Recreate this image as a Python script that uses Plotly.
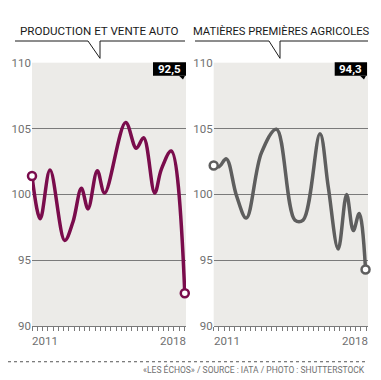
import plotly.graph_objects as go

# ---- data (x = months since Jan 2011) ----
prod_months = [0, 4.7, 10.3, 18.7, 23.4, 28.2, 32, 37.3, 41.5, 53.5, 59.6, 63.8, 70.1, 73.9, 79.6, 87.3]
prod_vals = [101.4, 98.15, 101.85, 96.5, 97.9, 100.47, 98.9, 101.8, 100.1, 105.45, 103.5, 104.3, 100.1, 101.9, 103.3, 92.5]

agri_months = [0, 3, 7.2, 12.9, 18.6, 27.2, 35.8, 46.3, 51, 60.6, 65.3, 71, 75.8, 79.6, 83, 86.6]
agri_vals = [102.2, 102.1, 102.7, 99.95, 98.2, 103.15, 104.95, 98.05, 98.05, 104.6, 100.6, 95.85, 100.0, 97.25, 98.55, 94.3]

titles = ["PRODUCTION ET VENTE AUTO", "MATIÈRES PREMIÈRES AGRICOLES"]
last_labels = ["92,5", "94,3"]
year_labels = ["2011", "2018"]
y_ticks = [90, 95, 100, 105, 110]
x_ticks = list(range(0, 88, 3))
source = "«LES ÉCHOS» / SOURCE : IATA / PHOTO : SHUTTERSTOCK"

W, H = 381, 380
FONT = "Roboto"
BG = "#ecebe8"
GRID = "#7a7a7a"
TXT = "#707070"
colors = ["#7a0c4c", "#5e5e5e"]

def px(x):
    return x / W

def py(y):
    return 1 - y / H

fig = go.Figure()

doms = [(24, 178), (205.7, 360)]
series = [(prod_months, prod_vals), (agri_months, agri_vals)]
for i, ((mx, vals), (x0, x1)) in enumerate(zip(series, doms)):
    xa = "x" if i == 0 else "x2"
    ya = "y" if i == 0 else "y2"
    fig.add_trace(go.Scatter(
        x=mx, y=vals, xaxis=xa, yaxis=ya, mode="lines",
        line=dict(color=colors[i], width=3.5, shape="spline", smoothing=1.0),
        hoverinfo="skip", showlegend=False, cliponaxis=False))
    fig.add_trace(go.Scatter(
        x=[mx[0], mx[-1]], y=[vals[0], vals[-1]], xaxis=xa, yaxis=ya, mode="markers",
        marker=dict(size=8, color="white", line=dict(color=colors[i], width=2.5)),
        hoverinfo="skip", showlegend=False, cliponaxis=False))

axis_common_x = dict(range=[0, 88], tickvals=x_ticks, ticks="outside", ticklen=4,
                     tickcolor=GRID, tickwidth=1, showticklabels=False, showgrid=False,
                     zeroline=False, showline=True, linecolor=GRID, linewidth=1, fixedrange=True)
axis_common_y = dict(range=[90, 110], tickvals=y_ticks, showgrid=True, gridcolor=GRID,
                     gridwidth=1, zeroline=False, ticks="", tickfont=dict(family=FONT, size=11.5, color=TXT),
                     fixedrange=True)

ydom = [py(323), py(49.5)]
fig.update_layout(
    width=W, height=H, margin=dict(l=0, r=0, t=0, b=0),
    paper_bgcolor="white", plot_bgcolor=BG,
    xaxis=dict(domain=[px(doms[0][0]), px(doms[0][1])], anchor="y", **axis_common_x),
    yaxis=dict(domain=ydom, anchor="x", **axis_common_y),
    xaxis2=dict(domain=[px(doms[1][0]), px(doms[1][1])], anchor="y2", **axis_common_x),
    yaxis2=dict(domain=ydom, anchor="x2", **axis_common_y),
)

shapes = []
annotations = []
title_cfg = [
    dict(cx=91, size=11.6, lx0=7, nx0=80, nx1=92, lx1=177),
    dict(cx=273, size=11.2, lx0=187, nx0=261, nx1=272, lx1=360),
]
for i, tc in enumerate(title_cfg):
    annotations.append(dict(text=titles[i], x=px(tc["cx"]), y=py(17), xref="paper", yref="paper",
                            xanchor="center", yanchor="middle", showarrow=False,
                            font=dict(family=FONT, size=tc["size"], color="#1a1a1a")))
    path = (f"M {px(tc['lx0'])},{py(27)} L {px(tc['nx0'])},{py(27)} L {px(tc['nx1'])},{py(45)} "
            f"L {px(tc['nx1'])},{py(27)} L {px(tc['lx1'])},{py(27)}")
    shapes.append(dict(type="path", path=path, xref="paper", yref="paper",
                       line=dict(color="#1a1a1a", width=1)))

# value boxes
boxes = [(145, 178), (326.7, 359)]
for i, (bx0, bx1) in enumerate(boxes):
    shapes.append(dict(type="rect", x0=px(bx0), x1=px(bx1), y0=py(63), y1=py(49),
                       xref="paper", yref="paper", fillcolor="black", line=dict(width=0)))
    tri = f"M {px(bx1-7)},{py(63)} L {px(bx1-1)},{py(63)} L {px(bx1-3)},{py(67)} Z"
    shapes.append(dict(type="path", path=tri, xref="paper", yref="paper",
                       fillcolor="black", line=dict(width=0)))
    annotations.append(dict(text=f"<b>{last_labels[i]}</b>", x=px((bx0 + bx1) / 2), y=py(56),
                            xref="paper", yref="paper", xanchor="center", yanchor="middle",
                            showarrow=False, font=dict(family=FONT, size=11.5, color="white")))

# year labels
for i, xa in enumerate(["x", "x2"]):
    annotations.append(dict(text=year_labels[0], x=0, y=py(338), xref=xa, yref="paper",
                            xanchor="left", yanchor="middle", xshift=-2, showarrow=False,
                            font=dict(family=FONT, size=11.5, color=TXT)))
    annotations.append(dict(text=year_labels[1], x=88, y=py(338), xref=xa, yref="paper",
                            xanchor="right", yanchor="middle", xshift=2, showarrow=False,
                            font=dict(family=FONT, size=11.5, color=TXT)))

# footer
shapes.append(dict(type="line", x0=0, x1=px(359), y0=py(360), y1=py(360), xref="paper", yref="paper",
                   line=dict(color="#555555", width=1, dash="dot")))
annotations.append(dict(text=source, x=px(359), y=py(368), xref="paper", yref="paper",
                        xanchor="right", yanchor="middle", showarrow=False,
                        font=dict(family=FONT, size=8.5, color=TXT)))

fig.update_layout(shapes=shapes, annotations=annotations)
fig.write_html("out.html")
